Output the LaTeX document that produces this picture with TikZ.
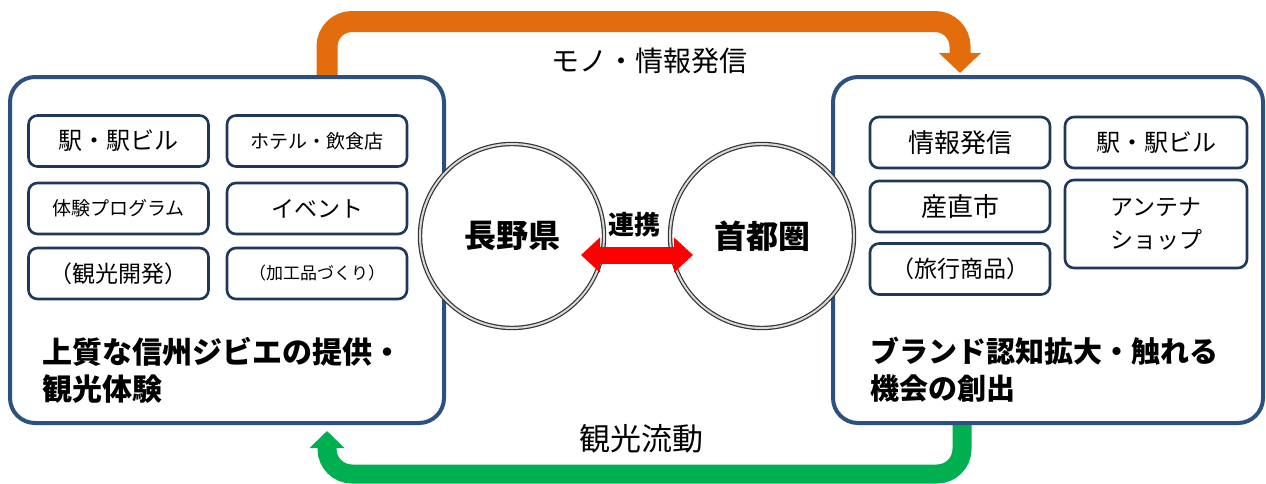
\documentclass[tikz,border=0pt]{standalone}
\usepackage{fontspec}
\setmainfont{Noto Sans CJK JP}
\usetikzlibrary{arrows.meta,calc,backgrounds}
\definecolor{boxblue}{RGB}{44,80,128}
\definecolor{smallblue}{RGB}{30,55,90}
\definecolor{orangearrow}{RGB}{227,108,12}
\definecolor{greenarrow}{RGB}{0,176,80}
\begin{document}
\begin{tikzpicture}[x=1pt,y=-1pt,
  bigbox/.style={draw=boxblue, line width=4pt, rounded corners=25pt, fill=white,
    minimum width=434pt, minimum height=346pt, inner sep=0pt, outer sep=0pt},
  smallbox/.style={draw=smallblue, line width=2.6pt, rounded corners=9pt, fill=white,
    minimum width=180pt, minimum height=51pt, inner sep=0pt, outer sep=0pt, align=center},
  ring/.style={circle, draw=black!80, double=black!15, line width=1.2pt, double distance=2pt,
    fill=white, minimum size=184pt, inner sep=0pt, outer sep=0pt,
    font=\fontsize{32}{36}\selectfont\bfseries},
  biglabel/.style={anchor=west, align=left, inner sep=0pt, font=\fontsize{30}{37}\selectfont\bfseries},
  flowlabel/.style={inner sep=0pt},
  orangeflow/.style={draw=orangearrow, line width=21pt, rounded corners=25pt,
    -{Triangle[length=20pt,width=41pt]}},
  greenflow/.style={draw=greenarrow, line width=19pt, rounded corners=25pt,
    -{Triangle[length=17pt,width=34pt]}},
  linkflow/.style={draw=red, line width=17pt,
    {Triangle[length=19pt,width=34pt]}-{Triangle[length=19pt,width=34pt]}}
]
\useasboundingbox (0,0) rectangle (1266,483);

% big boxes
\node[bigbox] (L) at (227,250) {};
\node[bigbox, minimum width=430pt] (R) at (1048,250) {};

% left small boxes
\node[smallbox, font=\fontsize{24}{28}\selectfont] (l1) at (118.5,141) {駅・駅ビル};
\node[smallbox, font=\fontsize{19}{23}\selectfont] (l2) at (317,141) {ホテル・飲食店};
\node[smallbox, font=\fontsize{19}{23}\selectfont] (l3) at (118.5,208.5) {体験プログラム};
\node[smallbox, font=\fontsize{23}{27}\selectfont] (l4) at (317,208.5) {イベント};
\node[smallbox, font=\fontsize{23}{27}\selectfont] (l5) at (118.5,273.5) {（観光開発）};
\node[smallbox, font=\fontsize{17}{21}\selectfont] (l6) at (317,273.5) {（加工品づくり）};

% right small boxes
\node[smallbox, font=\fontsize{26}{30}\selectfont] (r1) at (960,142.5) {情報発信};
\node[smallbox, font=\fontsize{24}{28}\selectfont, minimum width=182pt] (r2) at (1156,142.5) {駅・駅ビル};
\node[smallbox, font=\fontsize{26}{30}\selectfont] (r3) at (960,206.5) {産直市};
\node[smallbox, font=\fontsize{23}{27}\selectfont] (r4) at (960,269) {（旅行商品）};
\node[smallbox, font=\fontsize{23}{33}\selectfont, minimum width=182pt, minimum height=88pt] (r5) at (1156,224) {アンテナ\\ショップ};

% big labels
\node[biglabel] (lt) at (42,370) {上質な信州ジビエの提供・\\観光体験};
\node[biglabel, font=\fontsize{29}{37}\selectfont\bfseries] (rt) at (870,370) {ブランド認知拡大・触れる\\機会の創出};

% circles
\node[ring] (nag) at (512,236) {長野県};
\node[ring] (tok) at (762,236) {首都圏};
\draw[linkflow] ($(nag.center)+(69,19)$) -- ($(tok.center)+(-69,19)$);
\node[flowlabel, font=\fontsize{26}{30}\selectfont\bfseries] (link) at (634,225) {連携};

% flow labels
\node[flowlabel, font=\fontsize{28}{32}\selectfont] (mono) at (649,61) {モノ・情報発信};
\node[flowlabel, font=\fontsize{31}{35}\selectfont] (kanko) at (641,439) {観光流動};

% flows
\coordinate (otop) at (0,21.5);
\coordinate (gbot) at (0,474);
\begin{scope}[on background layer]
\coordinate (oa) at ($(L.north)+(100,0)$);
\coordinate (ob) at ($(R.north)+(-88,-4)$);
\draw[orangeflow] (oa) -- (oa |- otop) -- (ob |- otop) -- (ob);
\coordinate (ga) at ($(R.south)+(-86,0)$);
\coordinate (gb) at ($(L.south)+(100,8)$);
\draw[greenflow] (ga) -- (ga |- gbot) -- (gb |- gbot) -- (gb);
\end{scope}
\end{tikzpicture}
\end{document}
